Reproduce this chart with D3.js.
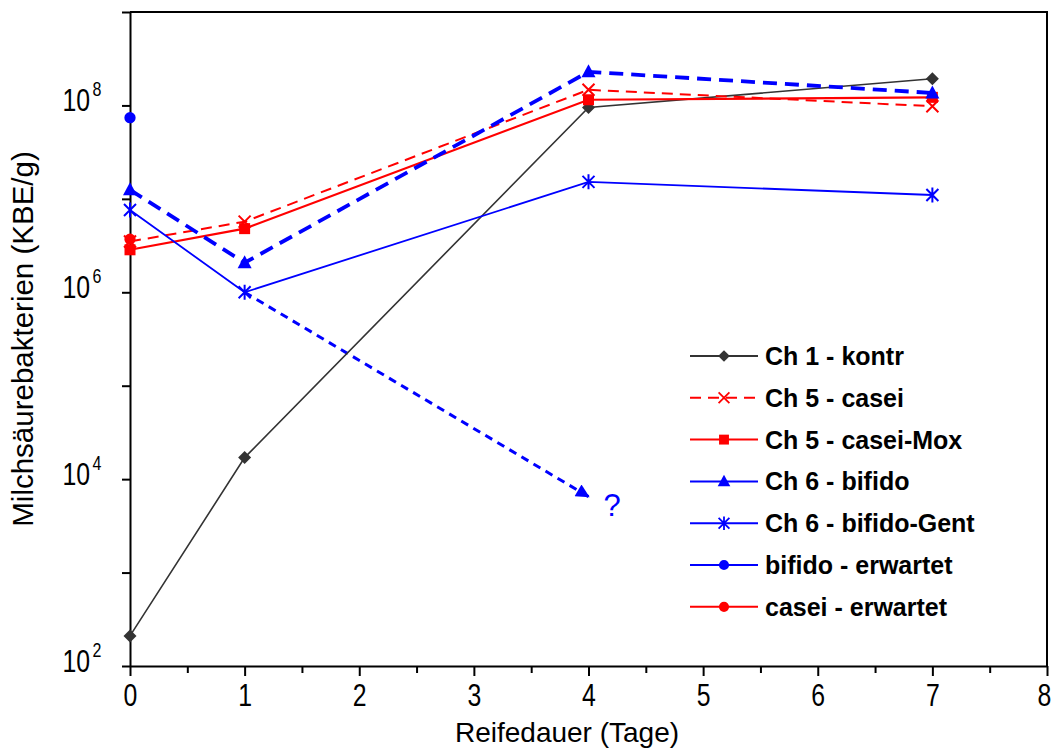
<!DOCTYPE html>
<html>
<head>
<meta charset="utf-8">
<script src="https://cdn.jsdelivr.net/npm/d3@7"></script>
<style>
  body { margin: 0; background: #fff; }
  svg { display: block; }
  text { font-family: "Liberation Sans", Arial, sans-serif; }
  .legend text { font-weight: bold; font-size: 25px; }
</style>
</head>
<body>
<svg id="chart"></svg>
<script>
const W = 1051, H = 753;
const M = { top: 12, right: 4, bottom: 87, left: 130 };
const NARROW = 0.8; // Schrift wie Arial Narrow

// Reifedauer in Tagen
const days = [0, 1, 4, 7];

// Milchsäurebakterien (KBE/g)
const kontr      = [210, 1.7e4, 9.5e7, 1.93e8];
const casei      = [3.5e6, 5.7e6, 1.47e8, 9.8e7];
const caseiMox   = [2.85e6, 4.8e6, 1.15e8, 1.22e8];
const bifido     = [1.25e7, 2.07e6, 2.29e8, 1.36e8];
const bifidoGent = [7.6e6, 1.0e6, 1.52e7, 1.1e7];

const erwartetDays   = [0];
const bifidoErwartet = [7.4e7];
const caseiErwartet  = [3.7e6];

// vermuteter Verlauf bifido-Gent
const extrapDays   = [1, 4];
const extrapValues = [1.0e6, 6.5e3];

const xTickLabels = [0, 1, 2, 3, 4, 5, 6, 7, 8];
const xMinorTicks = [0.5, 1.5, 2.5, 3.5, 4.5, 5.5, 6.5, 7.5];
const yDecades    = [1e2, 1e3, 1e4, 1e5, 1e6, 1e7, 1e8, 1e9];
const yLabelExp   = [2, 4, 6, 8];

const BLUE = "#0000ff", RED = "#ff0000", DARK = "#333333";

const series = [
  { name: "Ch 1 - kontr",       x: days, y: kontr,      color: DARK, width: 1.6, dash: null,   marker: "diamond",  legendDash: null },
  { name: "Ch 5 - casei",       x: days, y: casei,      color: RED,  width: 2,   dash: "11,7", marker: "times",    legendDash: "11,7" },
  { name: "Ch 5 - casei-Mox",   x: days, y: caseiMox,   color: RED,  width: 2.2, dash: null,   marker: "square",   legendDash: null },
  { name: "Ch 6 - bifido",      x: days, y: bifido,     color: BLUE, width: 3.8, dash: "14,8", marker: "triangle", legendDash: null },
  { name: "Ch 6 - bifido-Gent", x: days, y: bifidoGent, color: BLUE, width: 1.8, dash: null,   marker: "asterisk", legendDash: null },
  { name: "bifido - erwartet",  x: erwartetDays, y: bifidoErwartet, color: BLUE, width: 2, dash: null, marker: "circle", legendDash: null },
  { name: "casei - erwartet",   x: erwartetDays, y: caseiErwartet,  color: RED,  width: 2, dash: null, marker: "circle", legendDash: null },
];

const svg = d3.select("#chart").attr("width", W).attr("height", H);

const x = d3.scaleLinear().domain([0, 8]).range([M.left, W - M.right]);
const y = d3.scaleLog().domain([1e2, 1e9]).range([H - M.bottom, M.top]);

svg.append("defs").append("marker")
  .attr("id", "arrow")
  .attr("viewBox", "0 0 10 10")
  .attr("refX", 9).attr("refY", 5)
  .attr("markerWidth", 5.5).attr("markerHeight", 4.5)
  .attr("markerUnits", "strokeWidth")
  .attr("orient", "auto")
  .append("path")
    .attr("d", "M0,0 L10,5 L0,10 Z")
    .attr("fill", BLUE);

function markerPath(type) {
  switch (type) {
    case "diamond":  return "M0,-6.5L6.5,0L0,6.5L-6.5,0Z";
    case "square":   return "M-5.5,-5.5H5.5V5.5H-5.5Z";
    case "triangle": return "M0,-7.5L7,5.5H-7Z";
    case "circle":   return d3.symbol(d3.symbolCircle, 100)();
    case "times":    return "M-6,-6L6,6M-6,6L6,-6";
    case "asterisk": return "M0,-7.5V7.5M-6,-6L6,6M-6,6L6,-6";
  }
}
const strokeMarker = t => t === "times" || t === "asterisk";

function drawMarker(sel, s) {
  sel.append("path")
    .attr("d", markerPath(s.marker))
    .attr("fill", strokeMarker(s.marker) ? "none" : s.color)
    .attr("stroke", s.color)
    .attr("stroke-width", strokeMarker(s.marker) ? 2 : 0);
}

// Achsen
const gy = svg.append("g")
  .attr("transform", `translate(${M.left},0)`)
  .call(d3.axisLeft(y).tickValues(yDecades).tickSize(8).tickSizeOuter(0).tickFormat(""));
gy.selectAll("line, path").attr("stroke", "#000").attr("stroke-width", 2);

const gxMinor = svg.append("g")
  .attr("transform", `translate(0,${H - M.bottom})`)
  .call(d3.axisBottom(x).tickValues(xMinorTicks).tickSize(7).tickSizeOuter(0).tickFormat(""));
gxMinor.selectAll("line").attr("stroke", "#000").attr("stroke-width", 2);
gxMinor.select(".domain").remove();

const gx = svg.append("g")
  .attr("transform", `translate(0,${H - M.bottom})`)
  .call(d3.axisBottom(x).tickValues(xTickLabels).tickSize(10).tickSizeOuter(0).tickPadding(8));
gx.selectAll("line, path").attr("stroke", "#000").attr("stroke-width", 2);
gx.selectAll("text")
  .attr("font-size", 31)
  .attr("font-family", "Liberation Sans, Arial, sans-serif")
  .attr("fill", "#000")
  .attr("dy", "0.71em")
  .attr("dx", d => d === 8 ? -4 : 0)
  .attr("transform", `scale(${NARROW},1)`);

// Rahmen oben/rechts
svg.append("path")
  .attr("d", `M${M.left},${M.top}H${W - M.right}V${H - M.bottom}`)
  .attr("fill", "none").attr("stroke", "#000").attr("stroke-width", 2);

// Y-Beschriftung 10^n
yLabelExp.forEach(e => {
  const yy = y(Math.pow(10, e));
  const lab = svg.append("g").attr("transform", `translate(90,${yy}) scale(${NARROW},1)`);
  lab.append("text")
    .attr("x", 0).attr("y", 6)
    .attr("text-anchor", "end")
    .attr("font-size", 31)
    .text("10");
  lab.append("text")
    .attr("x", 3).attr("y", -9)
    .attr("font-size", 20)
    .text(e);
});

svg.append("text")
  .attr("transform", `translate(33,${(M.top + H - M.bottom) / 2}) rotate(-90)`)
  .attr("text-anchor", "middle")
  .attr("font-size", 29.5)
  .text("Milchsäurebakterien (KBE/g)");

svg.append("text")
  .attr("x", 567).attr("y", 742)
  .attr("text-anchor", "middle")
  .attr("font-size", 28)
  .text("Reifedauer (Tage)");

// Extrapolation
const extrap = extrapDays.map((d, i) => [d, extrapValues[i]]);
svg.append("path")
  .datum(extrap)
  .attr("d", d3.line().x(d => x(d[0])).y(d => y(d[1])))
  .attr("fill", "none")
  .attr("stroke", BLUE)
  .attr("stroke-width", 3)
  .attr("stroke-dasharray", "8,6")
  .attr("marker-end", "url(#arrow)");

svg.append("text")
  .attr("x", x(extrapDays[1]) + 15)
  .attr("y", y(extrapValues[1]) + 19)
  .attr("font-size", 31)
  .attr("fill", BLUE)
  .text("?");

// Reihen
series.forEach(s => {
  const pts = s.x.map((d, i) => [d, s.y[i]]);
  const g = svg.append("g");
  if (pts.length > 1) {
    g.append("path")
      .datum(pts)
      .attr("d", d3.line().x(d => x(d[0])).y(d => y(d[1])))
      .attr("fill", "none")
      .attr("stroke", s.color)
      .attr("stroke-width", s.width)
      .attr("stroke-dasharray", s.dash);
  }
  g.selectAll(".pt")
    .data(pts)
    .join("g")
      .attr("transform", d => `translate(${x(d[0])},${y(d[1])})`)
      .each(function () { drawMarker(d3.select(this), s); });
});

// Legende
const leg = svg.append("g").attr("class", "legend");
series.forEach((s, i) => {
  const row = leg.append("g").attr("transform", `translate(690,${356 + i * 41.8})`);
  row.append("line")
    .attr("x1", 0).attr("x2", 68)
    .attr("stroke", s.color)
    .attr("stroke-width", 2)
    .attr("stroke-dasharray", s.legendDash);
  const m = row.append("g").attr("transform", "translate(34,0) scale(0.9)");
  drawMarker(m, s);
  row.append("text")
    .attr("x", 75).attr("y", 9)
    .text(s.name);
});
</script>
</body>
</html>
